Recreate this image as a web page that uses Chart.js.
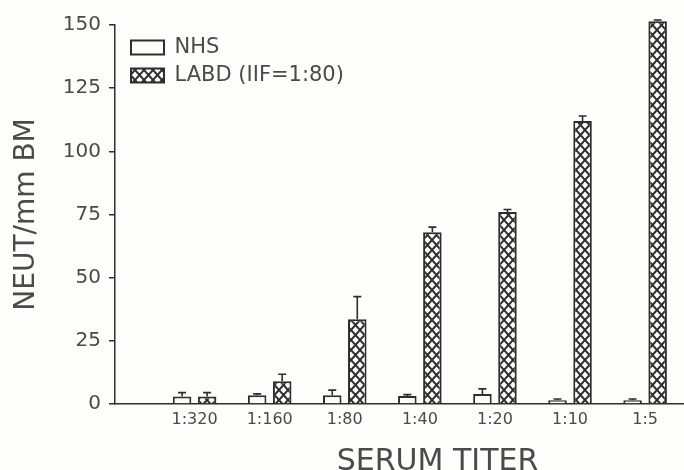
<!DOCTYPE html>
<html>
<head>
<meta charset="utf-8">
<script src="https://cdn.jsdelivr.net/npm/chart.js@4.4.0/dist/chart.umd.min.js"></script>
<style>
  html, body { margin: 0; padding: 0; overflow: hidden; background: #fdfdfb; }
  #wrap { width: 684px; height: 470px; overflow: hidden; }
</style>
</head>
<body>
<div id="wrap"><canvas id="chart" width="760" height="480"></canvas></div>
<script>
const categories = ["1:320", "1:160", "1:80", "1:40", "1:20", "1:10", "1:5"];
const nhsValues = [3, 3.5, 3.5, 3.2, 4, 1.5, 1.5];
const nhsErrors = [1.5, 0.5, 2, 0.5, 2, 0.5, 0.5];
const labdValues = [3, 9, 33.5, 68, 76, 112, 151.5];
const labdErrors = [1.5, 2.8, 9, 2, 1, 2, 0.5];
const yTicks = [0, 25, 50, 75, 100, 125, 150];

const ink = "#2e2e2e";
const textInk = "#4a4a4a";
const font = "'DejaVu Sans', sans-serif";

// cross-hatch fill for the LABD bars
const makeHatch = () => {
  const w = 9, h = 10;
  const tile = document.createElement("canvas");
  tile.width = w;
  tile.height = h;
  const t = tile.getContext("2d");
  t.fillStyle = "#fdfdfb";
  t.fillRect(0, 0, w, h);
  t.strokeStyle = ink;
  t.lineWidth = 2;
  t.beginPath();
  t.moveTo(-w, -h); t.lineTo(2 * w, 2 * h);
  t.moveTo(2 * w, -h); t.lineTo(-w, 2 * h);
  t.stroke();
  return t.createPattern(tile, "repeat");
};

const toPoints = (values) => values.map((v, i) => ({ x: i, y: v }));

const errorBars = {
  id: "errorBars",
  afterDatasetsDraw(chart) {
    const ctx = chart.ctx;
    const yScale = chart.scales.y;
    const errs = [nhsErrors, labdErrors];
    ctx.save();
    ctx.strokeStyle = ink;
    ctx.lineWidth = 1.6;
    chart.data.datasets.forEach((ds, d) => {
      const meta = chart.getDatasetMeta(d);
      meta.data.forEach((bar, i) => {
        const top = yScale.getPixelForValue(ds.data[i].y + errs[d][i]);
        ctx.beginPath();
        ctx.moveTo(bar.x, bar.y);
        ctx.lineTo(bar.x, top);
        ctx.moveTo(bar.x - 4, top);
        ctx.lineTo(bar.x + 4, top);
        ctx.stroke();
      });
    });
    ctx.restore();
  },
};

// the legend sits inside the plot, near the top-left corner
const legendPlace = {
  id: "legendPlace",
  afterLayout(chart) {
    const lg = chart.legend;
    const area = chart.chartArea;
    lg.left = area.left + 9;
    lg.right = lg.left + lg.width;
    lg.top = area.top + 5;
    lg.bottom = lg.top + lg.height;
  },
};

const ctx = document.getElementById("chart").getContext("2d");

new Chart(ctx, {
  type: "bar",
  data: {
    datasets: [
      {
        label: "NHS",
        data: toPoints(nhsValues),
        backgroundColor: "#fdfdfb",
        borderColor: ink,
        borderWidth: 2,
      },
      {
        label: "LABD (IIF=1:80)",
        data: toPoints(labdValues),
        backgroundColor: makeHatch(),
        borderColor: ink,
        borderWidth: 2,
        clip: false,
      },
    ],
  },
  options: {
    responsive: false,
    animation: false,
    categoryPercentage: 0.667,
    barPercentage: 0.74,
    layout: {
      padding: { top: 25, right: 0, bottom: 0, left: 0 },
    },
    scales: {
      x: {
        type: "linear",
        offset: false,
        min: -1.06,
        max: 7.53,
        afterBuildTicks: (scale) => {
          scale.ticks = categories.map((c, i) => ({ value: i }));
        },
        afterFit: (scale) => {
          scale.height = 76;
        },
        ticks: {
          autoSkip: false,
          maxRotation: 0,
          padding: 6,
          color: textInk,
          font: { family: font, size: 16 },
          callback: (v) => categories[v],
        },
        grid: { display: false, drawTicks: false },
        border: { display: true, color: ink, width: 1.5 },
        title: {
          display: true,
          text: "SERUM TITER",
          color: textInk,
          font: { family: font, size: 30 },
          padding: { top: 0, bottom: 0 },
        },
      },
      y: {
        min: 0,
        max: 150,
        afterBuildTicks: (scale) => {
          scale.ticks = yTicks.map((v) => ({ value: v }));
        },
        afterFit: (scale) => {
          scale.width = 115;
        },
        ticks: {
          padding: 8,
          color: textInk,
          font: { family: font, size: 20 },
        },
        grid: {
          drawOnChartArea: false,
          drawTicks: true,
          tickLength: 6,
          color: ink,
          lineWidth: 1.5,
        },
        border: { display: true, color: ink, width: 1.5 },
        title: {
          display: true,
          text: "NEUT/mm BM",
          color: textInk,
          font: { family: font, size: 28 },
          padding: { top: 10, bottom: 0 },
        },
      },
    },
    plugins: {
      legend: {
        position: "chartArea",
        align: "start",
        labels: {
          boxWidth: 33,
          boxHeight: 14,
          padding: 7,
          color: textInk,
          font: { family: font, size: 21 },
        },
      },
      tooltip: { enabled: false },
    },
  },
  plugins: [errorBars, legendPlace],
});
</script>
</body>
</html>
